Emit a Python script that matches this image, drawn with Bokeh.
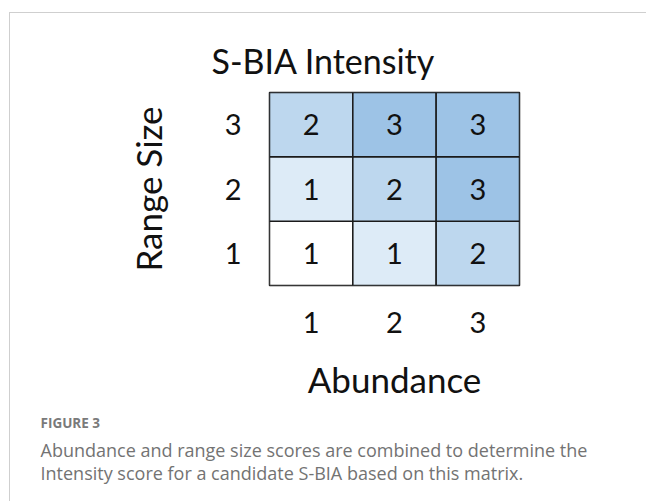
from bokeh.plotting import figure
from bokeh.models import ColumnDataSource, FixedTicker, LinearColorMapper, Range1d, Title
from bokeh.core.properties import value
from bokeh.embed import file_html
from bokeh.resources import INLINE

# ---- data ----
abundance = [1, 2, 3, 1, 2, 3, 1, 2, 3]
range_size = [1, 1, 1, 2, 2, 2, 3, 3, 3]
intensity = [1, 1, 2, 1, 2, 3, 2, 3, 3]
tick_values = [1, 2, 3]
tick_labels = ["1", "2", "3"]
title_text = "S-BIA Intensity"
x_label = "Abundance"
y_label = "Range Size"
fig_label = "FIGURE 3"
caption_lines = [
    "Abundance and range size scores are combined to determine the",
    "Intensity score for a candidate S-BIA based on this matrix.",
]

combined = [a + r for a, r in zip(abundance, range_size)]
shades = ["#FFFFFF", "#DDEBF7", "#BDD7EE", "#9DC3E6", "#9DC3E6"]
mapper = LinearColorMapper(palette=shades, low=1.5, high=6.5)

src = ColumnDataSource(dict(
    x=abundance, y=range_size, label=[str(v) for v in intensity], combined=combined,
))

FONT = "Lato"
NUM_FS = "29px"
LAB_FS = "35px"
INK = "#111111"

p = figure(
    width=637, height=489, output_backend="svg", toolbar_location=None,
    x_range=Range1d(0.5, 3.5), y_range=Range1d(0.5, 3.5),
    min_border_left=259, min_border_right=128, min_border_top=79, min_border_bottom=217,
)
p.styles = {"border-top": "1px solid #cfcfcf", "border-left": "1px solid #cfcfcf",
            "margin-top": "12px", "margin-left": "9px"}

p.rect(x="x", y="y", width=1, height=1, source=src,
       fill_color={"field": "combined", "transform": mapper},
       line_color="#1a1a1a", line_width=1.5)
p.text(x="x", y="y", text="label", source=src, text_align="center", text_baseline="middle",
       text_font=value(FONT), text_font_size=NUM_FS, text_color=INK)

p.outline_line_color = "#1a1a1a"
p.outline_line_width = 1.5
p.grid.visible = False

for ax in (p.xaxis[0], p.yaxis[0]):
    ax.ticker = FixedTicker(ticks=tick_values)
    ax.major_label_overrides = {v: l for v, l in zip(tick_values, tick_labels)}
    ax.axis_line_color = None
    ax.major_tick_line_color = None
    ax.minor_tick_line_color = None
    ax.major_label_text_font = FONT
    ax.major_label_text_font_size = NUM_FS
    ax.major_label_text_color = INK
    ax.axis_label_text_font = FONT
    ax.axis_label_text_font_size = LAB_FS
    ax.axis_label_text_font_style = "normal"
    ax.axis_label_text_color = INK

p.xaxis.axis_label = x_label
p.yaxis.axis_label = y_label
p.xaxis.major_label_standoff = 20
p.xaxis.axis_label_standoff = 22
p.yaxis.major_label_standoff = 22
p.yaxis.major_label_orientation = "horizontal"
p.yaxis.axis_label_standoff = 53

p.title.text = title_text
p.title.text_font = FONT
p.title.text_font_size = "34px"
p.title.text_font_style = "normal"
p.title.text_color = INK
p.title.align = "left"
p.title.offset = -58
p.title.standoff = 24

p.add_layout(Title(text=fig_label, align="left", offset=-229, standoff=18,
                   text_font="Open Sans", text_font_size="13.5px", text_font_style="bold",
                   text_color="#7a7a7a"), "below")
for line, so in zip(caption_lines, [-9, 2]):
    p.add_layout(Title(text=line, align="left", offset=-229, standoff=so,
                       text_font="Open Sans", text_font_size="18px", text_font_style="normal",
                       text_color="#737373"), "below")

open("out.html", "w").write(file_html(p, INLINE))
